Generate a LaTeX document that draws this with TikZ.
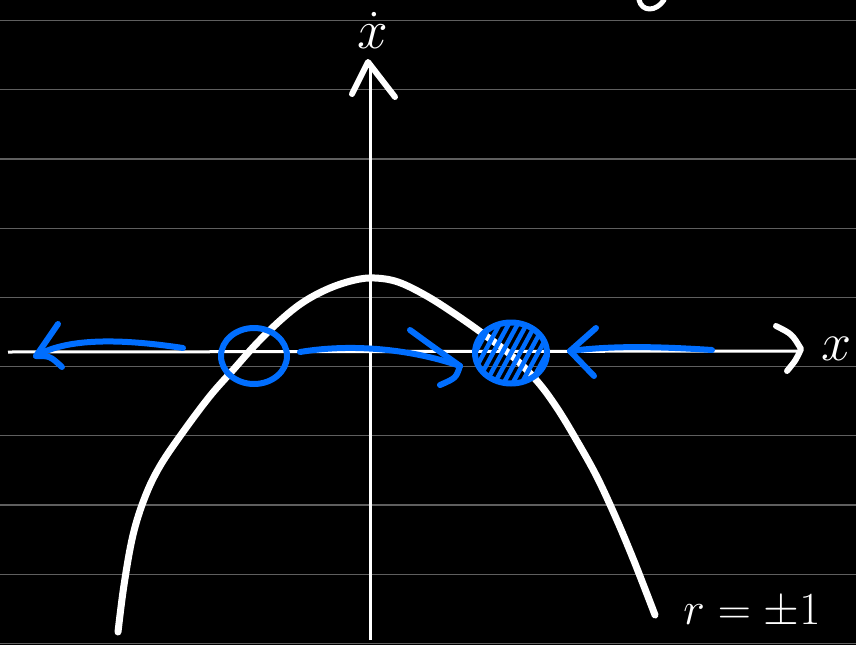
\RequirePackage{fix-cm}
\documentclass[tikz,border=0pt]{standalone}
\usetikzlibrary{shapes.geometric}
\definecolor{fpblue}{RGB}{0,110,255}
\definecolor{rulegray}{RGB}{95,95,95}
\begin{document}
\begin{tikzpicture}[x=1pt,y=-1pt,
  ruleline/.style={draw=rulegray,line width=1.2pt},
  axisline/.style={draw=white,line width=3pt},
  ink/.style={draw=white,line width=7pt,line cap=round,line join=round},
  blueink/.style={draw=fpblue,line width=6pt,line cap=round,line join=round},
  hatch/.style={draw=fpblue,line width=4.5pt,line cap=round},
  lab/.style={text=white,inner sep=0pt}]
\fill[black] (0,0) rectangle (856,645);
\useasboundingbox (0,0) rectangle (856,645);
% ruled lines
\foreach \k in {0,...,9} \draw[ruleline] (0,{20.6+69.2*\k}) -- (856,{20.6+69.2*\k});
% axes
\coordinate (xl) at (8,352);
\coordinate (xr) at (798,351);
\coordinate (xtip) at (801,349);
\draw[axisline] (xl) -- (xr);
\draw[ink,line width=6pt] (776,326) .. controls (792,334) .. (xtip) .. controls (796,360) .. (787,371);
\coordinate (yb) at (370,640);
\coordinate (yt) at (370,66);
\coordinate (ytip) at (368,62);
\draw[axisline] (yb) -- (yt);
\draw[ink,line width=6pt] (352,94) -- (ytip) -- (395,97);
% labels
\node[lab,font=\fontsize{55}{55}\selectfont] (xdot) at (373,30) {$\dot{x}$};
\node[lab,font=\fontsize{54}{54}\selectfont] (xlab) at (837,349) {$x$};
\node[lab,font=\fontsize{46}{46}\selectfont] (rlab) at (752,612) {$r=\pm1$};
% cut-off stroke top right
\draw[ink,line width=5pt] (639,0) .. controls (642,12) and (656,12) .. (664,0);
% parabola
\draw[ink] plot[smooth,tension=0.6] coordinates {(118,632) (124,585) (133,535) (145,497) (160,466) (183,432) (210,396) (233,370) (258,342) (283,318) (305,301) (330,288) (355,280) (375,278) (398,282) (425,295) (452,312) (482,333) (512,356) (537,381) (557,408) (577,441) (597,477) (616,518) (632,556) (645,589) (655,615)};
% fixed points
\node[blueink,ellipse,minimum width=66pt,minimum height=56pt,inner sep=0pt] (unstable) at (254,356) {};
\begin{scope}
\clip (511,353) ellipse [x radius=35, y radius=29];
\foreach \i in {-6,...,6} \draw[hatch] ({511+9*\i-19},388) -- ({511+9*\i+19},318);
\end{scope}
\node[blueink,ellipse,minimum width=72pt,minimum height=61pt,inner sep=0pt] (stable) at (511,353) {};
% flow arrows
\coordinate (la0) at (183,348);
\coordinate (lat) at (36,356);
\draw[blueink] (la0) .. controls (130,340) and (70,336) .. (lat);
\draw[blueink] (58,324) -- (lat) .. controls (50,356) .. (62,367);
\coordinate (ma0) at (300,352);
\coordinate (mat) at (460,366);
\draw[blueink] (ma0) .. controls (360,342) and (420,352) .. (mat);
\draw[blueink] (410,330) .. controls (432,346) .. (mat) .. controls (456,378) .. (440,385);
\coordinate (ra0) at (712,350);
\coordinate (rat) at (570,351);
\draw[blueink] (ra0) .. controls (650,346) and (610,346) .. (rat);
\draw[blueink] (596,328) -- (rat) -- (594,376);
\end{tikzpicture}
\end{document}
